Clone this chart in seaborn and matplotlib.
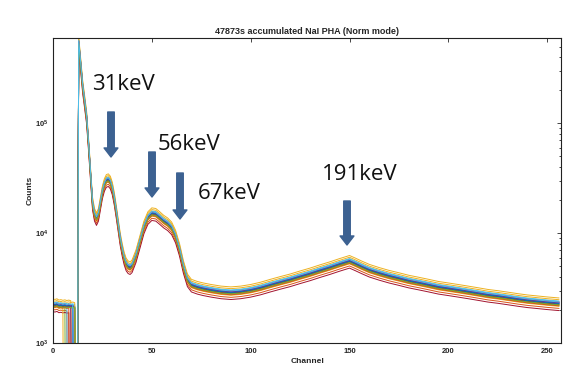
import numpy as np
import pandas as pd
import seaborn as sns
from matplotlib import pyplot as plt

# NaI pulse height spectra, channel -> counts
channels = [0, 1, 2, 3, 4, 5, 6, 7, 8, 9, 10, 11, 12, 13, 14, 15, 16, 17, 18, 19,
            20, 21, 22, 23, 24, 25, 26, 27, 28, 29, 30, 31, 32, 33, 34, 35, 36, 37, 38, 39,
            40, 42, 44, 46, 48, 50, 52, 54, 56, 58, 60, 62, 64, 66, 68, 70, 73, 76, 80, 85,
            90, 95, 100, 105, 110, 115, 120, 125, 130, 135, 140, 145, 150, 153, 156, 160, 165, 170, 175, 180,
            185, 190, 195, 200, 205, 210, 215, 220, 225, 230, 235, 240, 245, 250, 256]
base_counts = [2250, 2230, 2260, 2200, 2220, 2190, 2210, 2180, 2200, 2170, 2190, 2160, 2150, 550000, 350000, 220000, 160000, 115000, 65000, 35000,
               19000, 15000, 13700, 15000, 19000, 24000, 28000, 30500, 31000, 29500, 26000, 21000, 16000, 12000, 9000, 7200, 6000, 5300, 5000, 4900,
               5100, 6300, 8500, 11500, 14000, 15200, 15000, 14000, 13000, 12300, 11300, 9500, 7200, 5000, 3800, 3400, 3250, 3150, 3050, 2950,
               2900, 2950, 3050, 3200, 3400, 3600, 3800, 4050, 4300, 4600, 4900, 5250, 5600, 5300, 5000, 4650, 4350, 4100, 3900, 3700,
               3550, 3400, 3250, 3150, 3050, 2950, 2850, 2750, 2680, 2600, 2520, 2450, 2400, 2350, 2300]
line_scale = [1.00, 0.90, 1.12, 1.02, 0.97, 1.04, 0.86, 0.99, 1.03, 0.94,
              1.01, 0.96, 1.05, 0.98, 1.00, 0.95, 1.08, 1.02, 0.97, 1.03]
# first channel with zero counts below the threshold, per spectrum
cutoff_ch = [12, 8, 10, 11, 7, 12, 9, 12, 10, 6, 11, 12, 8, 12, 11, 9, 12, 10, 12, 11]
matlab_colors = ['#0072BD', '#D95319', '#EDB120', '#7E2F8E', '#77AC30', '#4DBEEE', '#A2142F']
peak_labels = ['31keV', '56keV', '67keV', '191keV']

rows = []
for i, (s, cut) in enumerate(zip(line_scale, cutoff_ch)):
    for c, v in zip(channels, base_counts):
        val = 1 if cut <= c <= 12 else v * s
        rows.append((i, c, val))
spectra = pd.DataFrame(rows, columns=['run', 'Channel', 'Counts'])

sns.set_style('white')
plt.rcParams['font.family'] = ['Liberation Sans', 'DejaVu Sans']

fig = plt.figure(figsize=(5.76, 3.75), dpi=100)
ax = fig.add_axes([0.092, 0.085, 0.882, 0.814])
ax.set_yscale('log')
palette = [matlab_colors[i % 7] for i in range(len(line_scale))]
sns.lineplot(data=spectra, x='Channel', y='Counts', hue='run', palette=palette,
             estimator=None, linewidth=0.7, legend=False, ax=ax)

ax.set_xlim(0, 257)
ax.set_ylim(1e3, 6e5)
ax.set_xticks([0, 50, 100, 150, 200, 250])
ax.tick_params(which='both', direction='in', top=True, right=True, labelsize=5.5, width=0.6)
ax.tick_params(which='major', length=3)
ax.tick_params(which='minor', length=1.8)
for lab in ax.get_xticklabels() + ax.get_yticklabels():
    lab.set_fontweight('bold')
for sp in ax.spines.values():
    sp.set_linewidth(0.8)
    sp.set_color('#222222')
ax.set_xlabel('Channel', fontsize=6, fontweight='bold', labelpad=2)
ax.set_ylabel('Counts', fontsize=6, fontweight='bold', labelpad=1)
ax.set_title('47873s accumulated NaI PHA (Norm mode)', fontsize=6.5, fontweight='bold', pad=3)

# peak markers added on top of the figure
arrow_color = '#3c6191'
arrows = [(111, 112, 157), (152, 152, 197), (180, 173, 219), (347, 201, 245)]
text_pos = [(92, 85), (158, 144), (198, 193), (322, 175)]
for (x, top, tip), (tx, ty), lab in zip(arrows, text_pos, peak_labels):
    ax.annotate('', xy=(x, 375 - tip), xycoords='figure pixels',
                xytext=(x, 375 - top), textcoords='figure pixels',
                arrowprops=dict(arrowstyle='simple,head_length=0.65,head_width=1.0,tail_width=0.47',
                                mutation_scale=10, color=arrow_color, shrinkA=0, shrinkB=0),
                annotation_clip=False)
    fig.text(tx / 576, 1 - ty / 375, lab, fontsize=16, family='Open Sans',
             ha='left', va='center', color='#111111')

fig.savefig('out.png', dpi=100)
